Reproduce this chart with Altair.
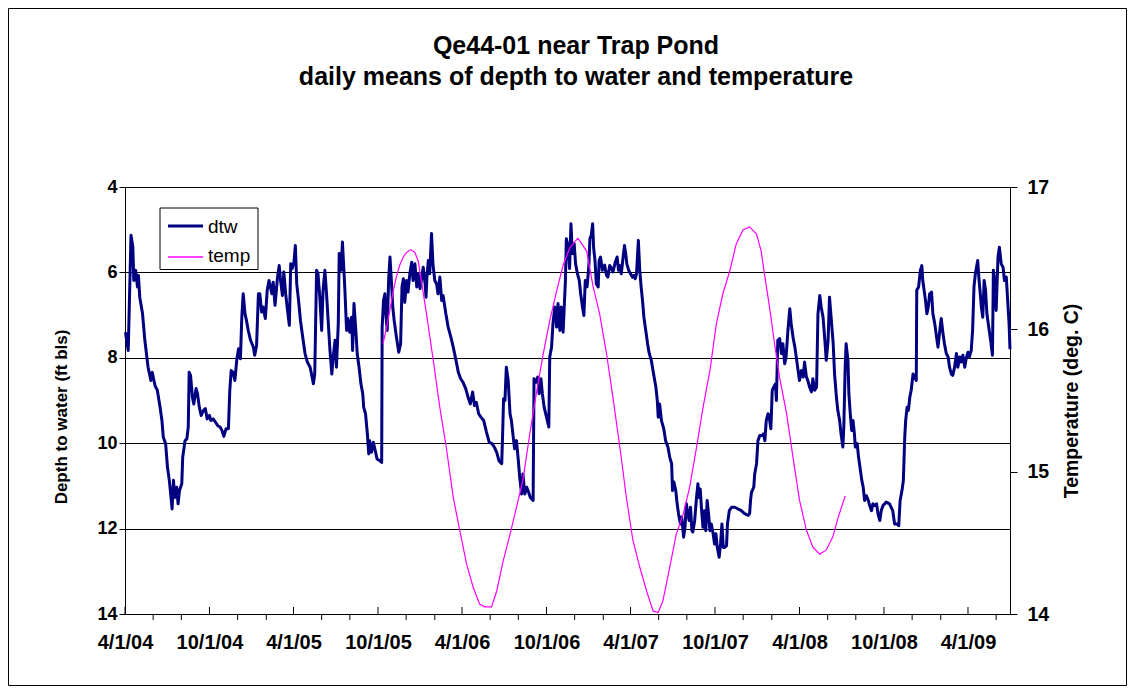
import altair as alt
import pandas as pd

START = "2004-04-01"
END = "2009-07-01"

# depth to water (ft below land surface), day offsets from START
dtw_day = [1, 7, 13, 17, 19, 23, 27, 29, 32, 38, 43, 50, 56, 59, 65, 70, 76, 80, 83, 88,
           92, 96, 99, 102, 105, 108, 112, 115, 118, 123, 125, 130, 134, 137, 139, 142, 146, 149, 154, 157,
           161, 165, 170, 174, 178, 183, 186, 191, 196, 201, 206, 210, 214, 219, 224, 227, 230, 234, 238, 242,
           246, 250, 253, 256, 260, 263, 267, 272, 278, 281, 285, 289, 292, 296, 299, 304, 308, 312, 318, 321,
           325, 330, 334, 337, 341, 344, 348, 352, 356, 359, 362, 366, 369, 372, 376, 380, 385, 390, 395, 401,
           404, 408, 411, 415, 418, 422, 426, 429, 433, 437, 440, 444, 448, 451, 455, 458, 462, 464, 468, 471,
           476, 480, 483, 487, 491, 493, 496, 500, 503, 507, 511, 515, 517, 521, 525, 528, 530, 534, 538, 542,
           546, 552, 556, 557, 560, 563, 565, 568, 571, 574, 577, 580, 583, 588, 593, 597, 600, 603, 606, 610,
           613, 617, 621, 624, 628, 632, 635, 639, 642, 646, 650, 652, 654, 657, 660, 664, 667, 671, 675, 678,
           682, 686, 689, 695, 700, 706, 711, 717, 722, 727, 732, 738, 743, 748, 753, 757, 761, 766, 771, 777,
           783, 789, 795, 800, 805, 810, 816, 818, 820, 823, 826, 830, 834, 837, 841, 844, 848, 852, 855, 859,
           862, 866, 870, 873, 878, 884, 886, 890, 894, 897, 901, 904, 908, 913, 918, 920, 924, 927, 931, 935,
           938, 942, 945, 949, 954, 956, 960, 963, 966, 969, 973, 976, 980, 984, 987, 991, 994, 997, 1001, 1005,
           1007, 1010, 1013, 1015, 1018, 1021, 1025, 1027, 1030, 1034, 1039, 1043, 1046, 1050, 1054, 1057, 1062, 1066, 1069, 1072,
           1075, 1079, 1082, 1085, 1087, 1091, 1095, 1099, 1102, 1105, 1108, 1110, 1112, 1115, 1118, 1121, 1124, 1128, 1132, 1135,
           1140, 1145, 1150, 1153, 1155, 1158, 1162, 1167, 1171, 1176, 1180, 1184, 1186, 1189, 1193, 1196, 1199, 1203, 1206, 1210,
           1213, 1216, 1219, 1222, 1225, 1228, 1230, 1234, 1238, 1241, 1243, 1246, 1249, 1252, 1255, 1258, 1261, 1264, 1267, 1270,
           1274, 1277, 1280, 1283, 1287, 1290, 1293, 1296, 1299, 1303, 1305, 1309, 1314, 1321, 1328, 1335, 1342, 1350, 1353, 1355,
           1357, 1362, 1364, 1368, 1371, 1375, 1381, 1383, 1386, 1389, 1393, 1396, 1399, 1402, 1405, 1409, 1411, 1414, 1418, 1422,
           1425, 1429, 1432, 1436, 1440, 1443, 1447, 1451, 1454, 1458, 1461, 1465, 1469, 1472, 1476, 1479, 1483, 1487, 1490, 1494,
           1498, 1501, 1505, 1508, 1512, 1516, 1519, 1523, 1526, 1530, 1534, 1537, 1541, 1544, 1548, 1551, 1555, 1557, 1560, 1562,
           1566, 1568, 1571, 1574, 1577, 1580, 1582, 1586, 1589, 1593, 1596, 1599, 1602, 1606, 1610, 1613, 1617, 1620, 1624, 1628,
           1631, 1635, 1638, 1642, 1649, 1656, 1663, 1667, 1672, 1676, 1679, 1683, 1686, 1689, 1691, 1694, 1697, 1700, 1703, 1707,
           1710, 1714, 1715, 1719, 1723, 1726, 1728, 1731, 1734, 1737, 1740, 1743, 1747, 1750, 1754, 1758, 1761, 1765, 1768, 1772,
           1775, 1779, 1783, 1786, 1790, 1793, 1797, 1801, 1804, 1808, 1811, 1815, 1819, 1822, 1826, 1829, 1833, 1836, 1839, 1842,
           1847, 1850, 1852, 1855, 1858, 1861, 1864, 1867, 1872, 1875, 1879, 1881, 1884, 1887, 1891, 1894, 1898, 1902, 1905, 1909,
           1912, 1915, 1917]
dtw_ft = [7.40, 7.83, 5.13, 5.41, 6.19, 5.95, 6.34, 6.07, 6.58, 6.97, 7.59, 8.22, 8.53, 8.34, 8.65, 8.76, 9.16, 9.47, 9.86, 10.01,
          10.56, 10.87, 11.19, 11.54, 10.87, 11.27, 11.03, 11.42, 11.11, 10.95, 10.33, 9.94, 9.90, 9.62, 8.34, 8.41, 8.92, 9.08, 8.72, 8.84,
          9.16, 9.35, 9.23, 9.19, 9.43, 9.35, 9.47, 9.43, 9.51, 9.59, 9.62, 9.70, 9.84, 9.66, 9.66, 8.76, 8.30, 8.34, 8.53, 8.06,
          7.79, 8.02, 7.05, 6.50, 6.97, 7.12, 7.36, 7.59, 7.75, 7.94, 7.71, 6.50, 6.50, 6.93, 6.81, 7.08, 6.42, 6.19, 6.50, 6.23,
          6.77, 6.15, 5.84, 6.19, 6.54, 5.99, 6.50, 6.89, 7.24, 5.80, 5.91, 5.76, 5.37, 6.27, 6.66, 7.12, 7.52, 7.90, 8.10, 8.22,
          8.38, 8.61, 8.38, 5.95, 6.03, 6.58, 7.36, 6.42, 5.95, 6.58, 7.12, 7.83, 8.38, 7.98, 7.59, 8.22, 7.20, 5.56, 5.95, 5.29,
          6.34, 7.36, 7.08, 7.40, 7.05, 7.83, 6.73, 7.36, 7.90, 8.22, 8.61, 8.84, 9.16, 9.31, 9.78, 10.25, 9.94, 10.21, 9.98, 10.17,
          10.37, 10.41, 10.45, 7.28, 6.66, 6.50, 6.97, 7.36, 6.19, 5.64, 6.19, 6.81, 7.12, 7.52, 7.87, 7.67, 6.34, 6.15, 6.70, 6.19,
          6.46, 6.03, 5.76, 6.19, 5.80, 6.34, 6.03, 6.38, 6.19, 5.88, 6.27, 6.58, 6.11, 5.72, 6.03, 5.09, 5.80, 6.19, 6.27, 6.50,
          6.11, 6.66, 6.54, 6.97, 7.28, 7.52, 7.75, 8.06, 8.34, 8.49, 8.57, 8.72, 8.92, 9.08, 8.80, 9.12, 9.04, 9.31, 9.39, 9.47,
          9.74, 9.98, 10.01, 10.09, 10.21, 10.41, 10.48, 9.78, 8.96, 9.00, 8.22, 8.53, 9.31, 9.47, 9.86, 10.13, 9.94, 10.41, 10.80, 11.19,
          10.72, 11.19, 11.03, 11.11, 11.27, 11.34, 8.49, 8.57, 8.45, 8.84, 8.49, 8.84, 9.16, 9.39, 9.62, 7.98, 7.75, 7.20, 6.81, 7.28,
          6.73, 7.36, 6.81, 7.40, 6.19, 5.21, 5.41, 5.91, 4.86, 5.56, 5.33, 5.80, 6.03, 6.19, 6.50, 6.81, 7.01, 6.19, 6.34, 5.80,
          5.21, 5.13, 4.86, 5.41, 5.72, 6.27, 6.34, 5.72, 5.64, 5.95, 5.83, 6.07, 6.11, 5.84, 5.91, 5.99, 5.76, 5.64, 5.95, 5.84,
          6.03, 5.64, 5.37, 5.60, 5.80, 5.95, 6.03, 6.11, 6.07, 6.15, 6.03, 5.64, 5.25, 5.95, 6.34, 6.66, 7.05, 7.36, 7.67, 7.87,
          8.06, 8.38, 8.69, 9.00, 9.39, 9.08, 9.47, 9.66, 9.94, 10.09, 10.33, 10.48, 11.11, 10.91, 11.11, 11.42, 11.65, 11.89, 11.73, 12.20,
          11.97, 11.42, 11.65, 11.81, 11.50, 12.05, 12.08, 11.81, 11.27, 10.95, 11.27, 11.07, 11.58, 11.97, 11.58, 12.05, 11.34, 11.65, 12.05, 11.89,
          12.12, 12.36, 12.12, 12.44, 12.67, 12.36, 11.89, 12.44, 12.44, 12.40, 11.89, 11.58, 11.50, 11.50, 11.54, 11.58, 11.65, 11.69, 11.65, 11.34,
          11.15, 11.03, 10.72, 10.48, 9.94, 9.82, 9.82, 9.78, 9.94, 9.47, 9.31, 9.43, 9.66, 8.76, 8.69, 8.61, 9.00, 7.59, 7.55, 7.90,
          7.67, 8.14, 7.98, 7.36, 6.85, 7.20, 7.52, 7.75, 7.98, 8.30, 8.53, 8.30, 8.45, 8.10, 8.45, 8.53, 8.69, 8.80, 8.49, 8.76,
          8.69, 6.97, 6.54, 6.81, 7.05, 7.59, 8.06, 7.59, 6.58, 7.12, 7.67, 8.38, 8.92, 9.23, 9.47, 9.78, 10.09, 9.62, 8.22, 7.67,
          8.06, 8.84, 9.31, 9.70, 9.47, 9.78, 10.09, 10.01, 10.33, 10.64, 10.87, 11.03, 11.34, 11.23, 11.34, 11.46, 11.58, 11.42, 11.46, 11.42,
          11.65, 11.81, 11.58, 11.46, 11.38, 11.42, 11.58, 11.89, 11.89, 11.93, 11.34, 11.11, 10.87, 9.86, 9.47, 9.16, 9.23, 8.92, 8.76, 8.38,
          8.45, 8.53, 6.42, 6.34, 5.95, 5.84, 6.19, 6.42, 6.66, 6.97, 6.81, 6.50, 6.46, 6.97, 7.20, 7.52, 7.75, 7.36, 7.08, 7.44,
          7.67, 7.90, 7.98, 8.22, 8.38, 8.41, 8.22, 7.90, 8.22, 7.98, 8.10, 7.94, 8.22, 8.02, 7.87, 7.98, 7.83, 7.36, 6.34, 6.03,
          5.72, 6.19, 6.42, 6.81, 7.05, 6.19, 6.42, 6.97, 7.36, 7.59, 7.94, 5.95, 6.19, 6.89, 5.64, 5.41, 5.80, 5.88, 6.19, 6.11,
          6.66, 7.20, 7.80]

# temperature (deg C), day offsets from START
temp_day = [559, 567, 574, 581, 588, 595, 603, 610, 619, 628, 635, 642, 653, 667, 682, 696, 711, 725, 740, 754,
            768, 779, 794, 805, 819, 834, 848, 862, 877, 891, 906, 920, 935, 949, 963, 981, 1000, 1014, 1028, 1043,
            1057, 1072, 1086, 1100, 1115, 1130, 1144, 1155, 1165, 1180, 1194, 1209, 1223, 1238, 1252, 1267, 1281, 1295, 1310, 1324,
            1339, 1353, 1368, 1378, 1386, 1396, 1407, 1418, 1433, 1447, 1461, 1476, 1490, 1505, 1519, 1533, 1545, 1560]
temp_c = [15.90, 16.02, 16.14, 16.27, 16.37, 16.45, 16.51, 16.54, 16.56, 16.54, 16.48, 16.34, 16.11, 15.80, 15.45, 15.17, 14.82, 14.59, 14.35, 14.19,
          14.07, 14.05, 14.05, 14.16, 14.37, 14.56, 14.75, 14.94, 15.27, 15.55, 15.83, 16.06, 16.27, 16.45, 16.57, 16.64, 16.55, 16.30, 16.11, 15.83,
          15.52, 15.17, 14.82, 14.52, 14.33, 14.16, 14.02, 14.01, 14.09, 14.33, 14.56, 14.70, 14.89, 15.17, 15.45, 15.71, 16.04, 16.25, 16.41, 16.60,
          16.70, 16.72, 16.67, 16.55, 16.37, 16.16, 15.90, 15.66, 15.41, 15.10, 14.80, 14.59, 14.47, 14.42, 14.45, 14.54, 14.68, 14.83]

dtw_ticks = [4, 6, 8, 10, 12, 14]
temp_ticks = [14, 15, 16, 17]

TITLE1 = "Qe44-01 near Trap Pond"
TITLE2 = "daily means of depth to water and temperature"
YTITLE_L = "Depth to water (ft bls)"
YTITLE_R = "Temperature (deg. C)"

FONT = "Liberation Sans"
W, H = 885, 427

start = pd.Timestamp(START)


def iso(days):
    return [(start + pd.Timedelta(days=int(d))).strftime("%Y-%m-%d") for d in days]


def ms(ts):
    return int(pd.Timestamp(ts).value // 10**6)


dtw_df = pd.DataFrame({"date": iso(dtw_day), "dtw": dtw_ft})
temp_df = pd.DataFrame({"date": iso(temp_day), "temp": temp_c})

all_ticks = pd.date_range(START, "2009-06-01", freq="2MS")
major = [d for d in all_ticks if d.month in (4, 10)]
minor = [d for d in all_ticks if d.month not in (4, 10)]
major_df = pd.DataFrame({"date": [d.strftime("%Y-%m-%d") for d in major]})
minor_df = pd.DataFrame({"date": [d.strftime("%Y-%m-%d") for d in minor]})

xscale = alt.Scale(type="utc", domain=[ms(START), ms(END)], nice=False)
xaxis = alt.Axis(
    values=[ms(d) for d in major],
    labelExpr="utcFormat(datum.value, '%-m/%-d/%y')",
    ticks=False, tickSize=0, grid=False, title=None,
    domainColor="#000000", domainWidth=1,
    labelFont=FONT, labelFontSize=20, labelFontWeight="bold", labelColor="#000000",
    labelPadding=18, labelFlush=False, labelOverlap=False,
)
X = alt.X("date:T", scale=xscale, axis=xaxis)

dtw_line = alt.Chart(dtw_df).mark_line(color="#000080", strokeWidth=3, strokeJoin="round").encode(
    x=X,
    y=alt.Y("dtw:Q", scale=alt.Scale(domain=[4, 14], reverse=True, nice=False, zero=False),
            axis=alt.Axis(values=dtw_ticks, title=None, grid=True, gridColor="#000000", gridWidth=1,
                          gridOpacity=1, domainColor="#000000", tickColor="#000000", tickSize=6,
                          labelFont=FONT, labelFontSize=18, labelFontWeight="bold", labelColor="#000000",
                          labelPadding=2, orient="left")),
)

temp_line = alt.Chart(temp_df).mark_line(color="#FF00FF", strokeWidth=1.2).encode(
    x=X,
    y=alt.Y("temp:Q", scale=alt.Scale(domain=[14, 17], nice=False, zero=False),
            axis=alt.Axis(values=temp_ticks, title=None, grid=False, domainColor="#000000",
                          tickColor="#000000", tickSize=7, labelFont=FONT, labelFontSize=19.5,
                          labelFontWeight="bold", labelColor="#000000", labelPadding=10, orient="right")),
)

minor_rules = alt.Chart(minor_df).mark_rule(color="#000000", strokeWidth=1).encode(
    x=X, y=alt.value(H), y2=alt.value(H + 6))
major_rules = alt.Chart(major_df).mark_rule(color="#000000", strokeWidth=1).encode(
    x=X, y=alt.value(H - 7), y2=alt.value(H))

one = pd.DataFrame({"a": [0]})
border = alt.Chart(one).mark_rect(fill="white", fillOpacity=0, stroke="#000000", strokeWidth=1).encode(
    x=alt.value(-116.5), x2=alt.value(W + 116.5), y=alt.value(-178.5), y2=alt.value(H + 71.5))

leg_box = alt.Chart(one).mark_rect(fill="white", stroke="#000000", strokeWidth=1).encode(
    x=alt.value(35), x2=alt.value(133), y=alt.value(21), y2=alt.value(82.5))
leg_dtw = alt.Chart(one).mark_rule(color="#000080", strokeWidth=3).encode(
    x=alt.value(43), x2=alt.value(78), y=alt.value(39))
leg_temp = alt.Chart(one).mark_rule(color="#FF00FF", strokeWidth=1.5).encode(
    x=alt.value(43), x2=alt.value(78), y=alt.value(70))
leg_t1 = alt.Chart(one).mark_text(text="dtw", font=FONT, fontSize=19, align="left", baseline="alphabetic",
                                   color="#000000").encode(x=alt.value(83), y=alt.value(46))
leg_t2 = alt.Chart(one).mark_text(text="temp", font=FONT, fontSize=19, align="left", baseline="alphabetic",
                                   color="#000000").encode(x=alt.value(83), y=alt.value(75))

t1 = alt.Chart(one).mark_text(text=TITLE1, font=FONT, fontSize=25, fontWeight="bold", align="center",
                              baseline="alphabetic", color="#000000").encode(x=alt.value(451), y=alt.value(-133))
t2 = alt.Chart(one).mark_text(text=TITLE2, font=FONT, fontSize=25, fontWeight="bold", align="center",
                              baseline="alphabetic", color="#000000").encode(x=alt.value(451), y=alt.value(-102))
yl = alt.Chart(one).mark_text(text=YTITLE_L, font=FONT, fontSize=17, fontWeight="bold", align="center",
                              baseline="middle", angle=270, color="#000000").encode(x=alt.value(-63), y=alt.value(230))
yr = alt.Chart(one).mark_text(text=YTITLE_R, font=FONT, fontSize=19.5, fontWeight="bold", align="center",
                              baseline="middle", angle=270, color="#000000").encode(x=alt.value(947), y=alt.value(214))

chart = alt.layer(
    border, minor_rules, major_rules, dtw_line, temp_line,
    leg_box, leg_dtw, leg_temp, leg_t1, leg_t2, t1, t2, yl, yr,
).resolve_scale(y="independent").properties(
    width=W, height=H,
    padding={"left": 117, "top": 179, "right": 117, "bottom": 72},
    autosize=alt.AutoSizeParams(type="none"),
    background="white",
).configure_view(stroke=None)

chart.save("out.html", embed_options={"renderer": "svg", "actions": False})
